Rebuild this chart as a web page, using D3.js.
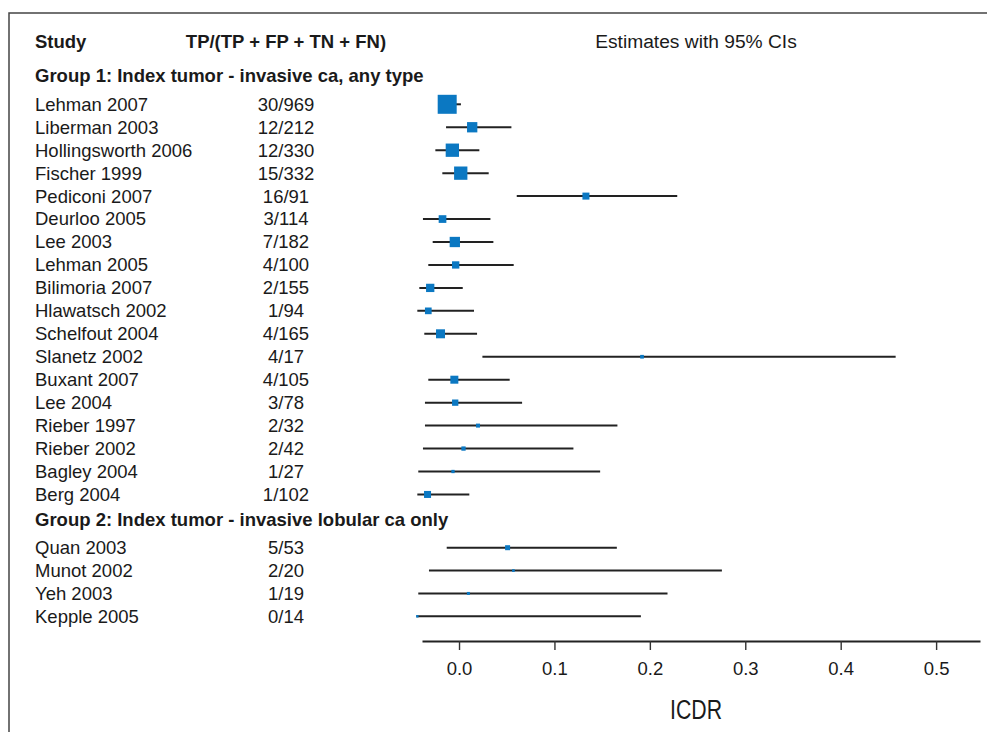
<!DOCTYPE html>
<html>
<head>
<meta charset="utf-8">
<script src="https://cdn.jsdelivr.net/npm/d3@7"></script>
<style>
  html, body { margin: 0; padding: 0; background: #fff; }
  svg { display: block; }
  text { font-family: "Liberation Sans", Arial, Helvetica, sans-serif; fill: #1a1a1a; }
</style>
</head>
<body>
<svg id="chart" width="987" height="732"></svg>
<script>
// ---------- data ----------
const group1Studies = ["Lehman 2007","Liberman 2003","Hollingsworth 2006","Fischer 1999","Pediconi 2007","Deurloo 2005","Lee 2003","Lehman 2005","Bilimoria 2007","Hlawatsch 2002","Schelfout 2004","Slanetz 2002","Buxant 2007","Lee 2004","Rieber 1997","Rieber 2002","Bagley 2004","Berg 2004"];
const group1Counts  = ["30/969","12/212","12/330","15/332","16/91","3/114","7/182","4/100","2/155","1/94","4/165","4/17","4/105","3/78","2/32","2/42","1/27","1/102"];
const group1Est     = [-0.0124, 0.0138, -0.0070, 0.0018, 0.1330, -0.0173, -0.0044, -0.0035, -0.0302, -0.0322, -0.0194, 0.1918, -0.0049, -0.0040, 0.0199, 0.0047, -0.0063, -0.0330];
const group1Lower   = [-0.0220, -0.0136, -0.0248, -0.0175, 0.0605, -0.0378, -0.0276, -0.0322, -0.0416, -0.0437, -0.0364, 0.0245, -0.0322, -0.0357, -0.0357, -0.0378, -0.0427, -0.0437];
const group1Upper   = [0.0020, 0.0549, 0.0213, 0.0311, 0.2287, 0.0329, 0.0360, 0.0573, 0.0039, 0.0157, 0.0189, 0.4576, 0.0531, 0.0661, 0.1660, 0.1199, 0.1479, 0.0108];
const group1Weight  = [100, 29.4, 49, 49, 13.6, 16.4, 29.4, 14.8, 19.1, 12.4, 22.4, 3.8, 17.7, 11, 4.4, 5.1, 3.0, 13.6];

const group2Studies = ["Quan 2003","Munot 2002","Yeh 2003","Kepple 2005"];
const group2Counts  = ["5/53","2/20","1/19","0/14"];
const group2Est     = [0.0509, 0.0570, 0.0098, -0.0437];
const group2Lower   = [-0.0129, -0.0315, -0.0427, -0.0444];
const group2Upper   = [0.1654, 0.2755, 0.2185, 0.1906];
const group2Weight  = [6.9, 2.0, 2.5, 1.7];

const groupTitles = ["Group 1: Index tumor - invasive ca, any type", "Group 2: Index tumor - invasive lobular ca only"];
const columnHeaders = ["Study", "TP/(TP + FP + TN + FN)", "Estimates with 95% CIs"];
const xTicks = [0.0, 0.1, 0.2, 0.3, 0.4, 0.5];
const xTitle = "ICDR";

// ---------- layout ----------
const svg = d3.select("#chart");
const FS = 18.5;
const nameX = 35, countX = 286, centerX = 696;
const textColor = "#1a1a1a", blue = "#0b78c2", lineColor = "#222";

// frame (left and top edges visible)
svg.append("path")
  .attr("d", "M9,740V13H995")
  .attr("fill", "none").attr("stroke", "#444").attr("stroke-width", 1.5);

const x = d3.scaleLinear().domain([-0.0388, 0.546]).range([422, 980]);
const y1 = d3.scaleLinear().domain([0, group1Studies.length - 1]).range([104.3, 104.3 + 17 * 22.95]);
const y2 = d3.scaleLinear().domain([0, group2Studies.length - 1]).range([547.7, 547.7 + 3 * 22.87]);
const size = d3.scaleSqrt().domain([0, 100]).range([0, 19]);

// headers
svg.append("text").attr("x", nameX).attr("y", 48).attr("font-size", FS).attr("font-weight", "bold").text(columnHeaders[0]);
svg.append("text").attr("x", countX).attr("y", 48).attr("font-size", FS).attr("font-weight", "bold").attr("text-anchor", "middle").text(columnHeaders[1]);
svg.append("text").attr("x", centerX).attr("y", 48).attr("font-size", 19.2).attr("text-anchor", "middle").text(columnHeaders[2]);

function drawGroup(title, titleY, studies, counts, est, lo, hi, wt, yScale) {
  svg.append("text").attr("x", nameX).attr("y", titleY).attr("font-size", FS).attr("font-weight", "bold").text(title);
  const rows = studies.map((s, i) => ({ s, c: counts[i], e: est[i], lo: lo[i], hi: hi[i], w: wt[i], i }));
  const g = svg.append("g");
  g.selectAll("text.name").data(rows).join("text").attr("class", "name")
    .attr("x", nameX).attr("y", d => yScale(d.i) + 6.4).attr("font-size", FS).text(d => d.s);
  g.selectAll("text.count").data(rows).join("text").attr("class", "count")
    .attr("x", countX).attr("y", d => yScale(d.i) + 6.4).attr("font-size", FS).attr("text-anchor", "middle").text(d => d.c);
  g.selectAll("line.ci").data(rows).join("line").attr("class", "ci")
    .attr("x1", d => x(d.lo)).attr("x2", d => x(d.hi))
    .attr("y1", d => yScale(d.i)).attr("y2", d => yScale(d.i))
    .attr("stroke", lineColor).attr("stroke-width", 2);
  g.selectAll("rect.pt").data(rows).join("rect").attr("class", "pt")
    .attr("x", d => x(d.e) - size(d.w) / 2).attr("y", d => yScale(d.i) - size(d.w) / 2)
    .attr("width", d => size(d.w)).attr("height", d => size(d.w))
    .attr("fill", blue);
}

drawGroup(groupTitles[0], 82, group1Studies, group1Counts, group1Est, group1Lower, group1Upper, group1Weight, y1);
drawGroup(groupTitles[1], 526, group2Studies, group2Counts, group2Est, group2Lower, group2Upper, group2Weight, y2);

// x axis
const axisY = 641;
const axis = svg.append("g").attr("transform", `translate(0,${axisY})`)
  .call(d3.axisBottom(x).tickValues(xTicks).tickFormat(d3.format(".1f")).tickSize(9).tickSizeOuter(0));
axis.select(".domain").attr("stroke", "#222").attr("stroke-width", 2.2);
axis.selectAll(".tick line").attr("stroke", "#333").attr("stroke-width", 1.4);
axis.selectAll(".tick text").attr("y", 34).attr("dy", 0)
  .attr("font-size", FS).attr("font-family", "'Liberation Sans', Arial, sans-serif").attr("fill", textColor);

svg.append("text").attr("x", centerX).attr("y", 719).attr("text-anchor", "middle")
  .attr("font-size", 27).attr("font-family", "'Liberation Sans Narrow', 'Liberation Sans', sans-serif")
  .attr("textLength", 52).attr("lengthAdjust", "spacingAndGlyphs")
  .text(xTitle);
</script>
</body>
</html>
